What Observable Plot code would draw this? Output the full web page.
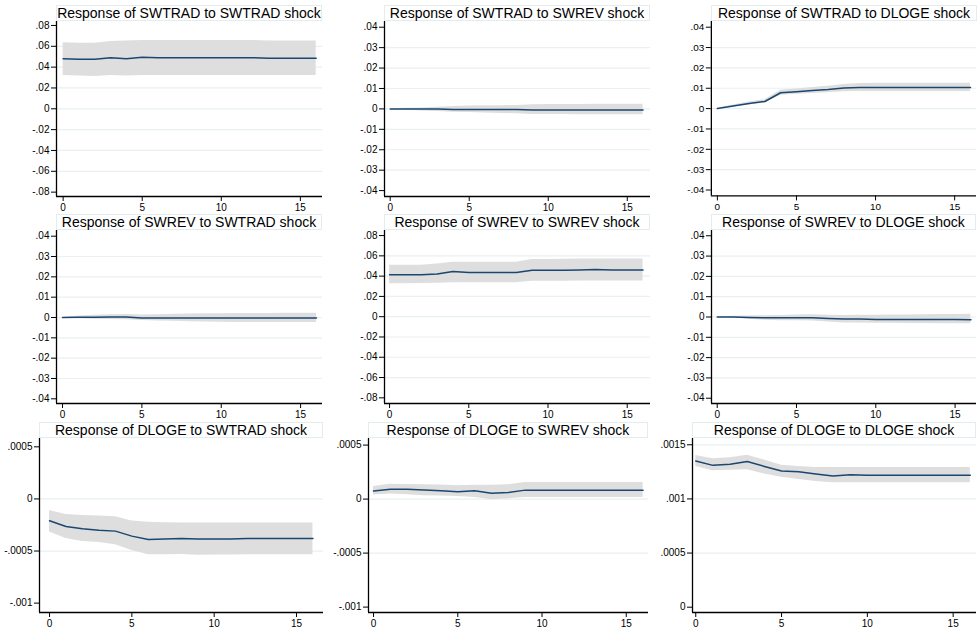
<!DOCTYPE html>
<html>
<head>
<meta charset="utf-8">
<script src="https://cdn.jsdelivr.net/npm/d3@7"></script>
<script src="https://cdn.jsdelivr.net/npm/@observablehq/plot@0.6"></script>
<style>
  html, body { margin: 0; padding: 0; background: #ffffff; }
  #chart { position: relative; width: 979px; height: 629px; overflow: hidden; font-family: "Liberation Sans", Arial, sans-serif; }
  .ttl { position: absolute; box-sizing: border-box; border: 1px solid #e3ecee; background: #fff;
         font-size: 14px; line-height: 14px; text-align: center; white-space: nowrap; color: #000; }
  .pnl { position: absolute; }
</style>
</head>
<body>
<div id="chart"></div>
<script>
// ---------- data ----------
const horizon = [0,1,2,3,4,5,6,7,8,9,10,11,12,13,14,15,16];

const titles = [
  "Response of SWTRAD to SWTRAD shock", "Response of SWTRAD to SWREV shock", "Response of SWTRAD to DLOGE shock",
  "Response of SWREV to SWTRAD shock",  "Response of SWREV to SWREV shock",  "Response of SWREV to DLOGE shock",
  "Response of DLOGE to SWTRAD shock",  "Response of DLOGE to SWREV shock",  "Response of DLOGE to DLOGE shock"
];

// SWTRAD <- SWTRAD
const irf1 = [0.048,0.0475,0.0475,0.049,0.048,0.0495,0.049,0.049,0.049,0.049,0.049,0.049,0.049,0.0485,0.0485,0.0485,0.0485];
const lo1  = [0.032,0.0315,0.031,0.032,0.0315,0.032,0.032,0.032,0.032,0.032,0.032,0.032,0.032,0.032,0.032,0.032,0.032];
const hi1  = [0.0635,0.063,0.063,0.0645,0.065,0.0655,0.0655,0.0655,0.0655,0.0655,0.0655,0.0655,0.0655,0.065,0.065,0.065,0.065];
// SWTRAD <- SWREV
const irf2 = [0,0,0,0,-0.0003,-0.0003,-0.0003,-0.0003,-0.0003,-0.0005,-0.0005,-0.0005,-0.0005,-0.0005,-0.0005,-0.0005,-0.0005];
const lo2  = [0,-0.0005,-0.001,-0.0013,-0.0016,-0.0018,-0.002,-0.0022,-0.0024,-0.0027,-0.0028,-0.0028,-0.0029,-0.0029,-0.0029,-0.0029,-0.0029];
const hi2  = [0,0.0003,0.0005,0.0008,0.0012,0.0014,0.0015,0.0016,0.0017,0.002,0.0021,0.0022,0.0022,0.0023,0.0023,0.0023,0.0023];
// SWTRAD <- DLOGE
const irf3 = [0,0.0013,0.0025,0.0035,0.0078,0.0083,0.0089,0.0094,0.0101,0.0104,0.0104,0.0104,0.0104,0.0104,0.0104,0.0104,0.0104];
const lo3  = [0,0.0008,0.0018,0.0026,0.0066,0.007,0.0074,0.0078,0.0083,0.0084,0.0084,0.0084,0.0084,0.0084,0.0084,0.0084,0.0084];
const hi3  = [0,0.0018,0.0032,0.0044,0.009,0.0096,0.0104,0.011,0.0119,0.0123,0.0124,0.0124,0.0124,0.0124,0.0124,0.0124,0.0124];
// SWREV <- SWTRAD
const irf4 = [0,0.0001,0.0001,0.0002,0.0002,-0.0002,-0.0002,-0.0002,-0.0002,-0.0002,-0.0002,-0.0002,-0.0002,-0.0002,-0.0002,-0.0002,-0.0002];
const lo4  = [0,-0.0006,-0.0009,-0.001,-0.0011,-0.0015,-0.0017,-0.0019,-0.0021,-0.0022,-0.0023,-0.0024,-0.0024,-0.0025,-0.0025,-0.0025,-0.0025];
const hi4  = [0,0.0008,0.0011,0.0013,0.0015,0.0012,0.0014,0.0016,0.0017,0.0018,0.0019,0.002,0.002,0.002,0.0021,0.0021,0.0021];
// SWREV <- SWREV
const irf5 = [0.0413,0.0413,0.0413,0.042,0.0446,0.0436,0.0436,0.0436,0.0436,0.0459,0.0459,0.0459,0.0461,0.0465,0.046,0.046,0.046];
const lo5  = [0.0325,0.0325,0.0327,0.033,0.0335,0.0335,0.0335,0.0335,0.0335,0.035,0.035,0.035,0.0351,0.0352,0.0351,0.0351,0.0351];
const hi5  = [0.0507,0.0507,0.0508,0.052,0.0537,0.0537,0.0537,0.0537,0.0537,0.0563,0.0565,0.0566,0.0568,0.0569,0.0568,0.0568,0.0568];
// SWREV <- DLOGE
const irf6 = [0,0,-0.0002,-0.0004,-0.0004,-0.0004,-0.0004,-0.0007,-0.001,-0.001,-0.0012,-0.0012,-0.0012,-0.0012,-0.0012,-0.0012,-0.0013];
const lo6  = [0,-0.0004,-0.0011,-0.0016,-0.0018,-0.0019,-0.002,-0.0025,-0.0029,-0.003,-0.0031,-0.0031,-0.0032,-0.0032,-0.0033,-0.0033,-0.0033];
const hi6  = [0,0.0004,0.0005,0.0006,0.0008,0.001,0.0011,0.0009,0.0008,0.0009,0.0009,0.001,0.001,0.0011,0.0012,0.0012,0.0013];
// DLOGE <- SWTRAD
const irf7 = [-0.00021,-0.000265,-0.000287,-0.0003,-0.000309,-0.000357,-0.000389,-0.000384,-0.000379,-0.000385,-0.000385,-0.000385,-0.00038,-0.00038,-0.00038,-0.00038,-0.00038];
const lo7  = [-0.000318,-0.00038,-0.000408,-0.000418,-0.00044,-0.000494,-0.000535,-0.000535,-0.000533,-0.00054,-0.000538,-0.000537,-0.000536,-0.000535,-0.000535,-0.000535,-0.000535];
const hi7  = [-0.000111,-0.00015,-0.00016,-0.000165,-0.00017,-0.000213,-0.000223,-0.000228,-0.00023,-0.00023,-0.00023,-0.00023,-0.00023,-0.00023,-0.00023,-0.00023,-0.00023];
// DLOGE <- SWREV
const irf8 = [0.000074,0.000092,0.000092,0.000085,0.000077,0.000068,0.000077,0.000055,0.000061,0.000083,0.000083,0.000083,0.000083,0.000083,0.000083,0.000083,0.000083];
const lo8  = [0.000037,0.000046,0.00004,0.000032,0.000028,0.000025,0.000015,-0.000006,0.000002,0.000015,0.000015,0.000015,0.000015,0.000015,0.000015,0.000015,0.000015];
const hi8  = [0.000117,0.000138,0.000135,0.000133,0.00013,0.000124,0.000128,0.000129,0.000132,0.000153,0.000153,0.000153,0.000153,0.000153,0.000153,0.000153,0.000153];
// DLOGE <- DLOGE
const irf9 = [0.00135,0.00131,0.00132,0.001345,0.0013,0.001258,0.00125,0.00123,0.001211,0.001224,0.001218,0.001218,0.001218,0.001218,0.001218,0.001218,0.001218];
const lo9  = [0.0013,0.00126,0.001265,0.00127,0.00123,0.0012,0.00118,0.00116,0.00115,0.00115,0.00115,0.00115,0.00115,0.00115,0.00115,0.00115,0.00115];
const hi9  = [0.0014,0.00137,0.00138,0.001404,0.00136,0.00131,0.0013,0.00129,0.00129,0.00129,0.00129,0.00129,0.00129,0.00129,0.00129,0.00129,0.00129];

// tick values and labels
const xTicks = [0, 5, 10, 15];
const xTickLabels = ["0", "5", "10", "15"];
const yTicksA = [-0.08,-0.06,-0.04,-0.02,0,0.02,0.04,0.06,0.08];
const yLabelsA = ["-.08","-.06","-.04","-.02","0",".02",".04",".06",".08"];
const gridA = [-0.06,-0.04,-0.02,0,0.02,0.04,0.06];
const yTicksB = [-0.04,-0.03,-0.02,-0.01,0,0.01,0.02,0.03,0.04];
const yLabelsB = ["-.04","-.03","-.02","-.01","0",".01",".02",".03",".04"];
const gridB = [-0.03,-0.02,-0.01,0,0.01,0.02,0.03];
const yTicksC = [-0.001,-0.0005,0,0.0005];
const yLabelsC = ["-.001","-.0005","0",".0005"];
const gridC = [-0.0005, 0];
const yTicksD = [0,0.0005,0.001,0.0015];
const yLabelsD = ["0",".0005",".001",".0015"];
const gridD = [0.0005,0.001,0.0015];

// ---------- layout (page pixels of each plot frame, and scale extents) ----------
const frames = [
  {L:56,  R:322,   T:21,  B:196, xd:[-0.42,16.4],  yd:[-0.0842,0.0838]},
  {L:384, R:650,   T:21,  B:196, xd:[-0.36,16.47], yd:[-0.0429,0.0428]},
  {L:711, R:977,   T:21,  B:196, xd:[-0.38,16.38], yd:[-0.0429,0.0428]},
  {L:56,  R:322,   T:230, B:403, xd:[-0.38,16.38], yd:[-0.0423,0.0428]},
  {L:384, R:650,   T:230, B:403, xd:[-0.32,16.47], yd:[-0.0856,0.085]},
  {L:711, R:976,   T:230, B:403, xd:[-0.36,16.35], yd:[-0.0426,0.0426]},
  {L:39,  R:323,   T:438, B:612, xd:[-0.61,16.64], yd:[-0.00109,0.00058]},
  {L:368, R:648,   T:438, B:612, xd:[-0.3,16.32],  yd:[-0.00105,0.000561]},
  {L:692, R:976,   T:438, B:612, xd:[-0.19,16.36], yd:[-0.000049,0.001558]}
];

const series = [
  [irf1,lo1,hi1,yTicksA,yLabelsA,gridA],
  [irf2,lo2,hi2,yTicksB,yLabelsB,gridB],
  [irf3,lo3,hi3,yTicksB,yLabelsB,gridB],
  [irf4,lo4,hi4,yTicksB,yLabelsB,gridB],
  [irf5,lo5,hi5,yTicksA,yLabelsA,gridA],
  [irf6,lo6,hi6,yTicksB,yLabelsB,gridB],
  [irf7,lo7,hi7,yTicksC,yLabelsC,gridC],
  [irf8,lo8,hi8,yTicksC,yLabelsC,gridC],
  [irf9,lo9,hi9,yTicksD,yLabelsD,gridD]
];

const LINE = "#1a476f", BAND = "#dedede", GRID = "#e8f0f2";
const chart = document.getElementById("chart");

function labeler(ticks, labels) {
  return d => { const i = ticks.findIndex(t => Math.abs(t - d) < 1e-12); return i >= 0 ? labels[i] : ""; };
}

frames.forEach((f, k) => {
  const [irf, lo, hi, yt, yl, grid] = series[k];
  const data = horizon.map((h, i) => ({h, irf: irf[i], lo: lo[i], hi: hi[i]}));
  const mL = 48, mR = 3, mT = 3, mB = 17;
  const svgLeft = f.L - mL, svgTop = f.T - mT;
  const width = f.R - f.L + mL + mR, height = f.B - f.T + mT + mB;

  const p = Plot.plot({
    width, height,
    marginLeft: mL, marginRight: mR, marginTop: mT, marginBottom: mB,
    style: {fontSize: "10px", fontFamily: "'Liberation Sans', Arial, sans-serif", color: "#000", background: "transparent", overflow: "visible"},
    x: {domain: f.xd, ticks: xTicks, tickFormat: labeler(xTicks, xTickLabels), tickSize: 5, tickPadding: 2, label: null},
    y: {domain: f.yd, ticks: yt, tickFormat: labeler(yt, yl), tickSize: 5, tickPadding: 2, label: null},
    marks: [
      Plot.ruleY(grid, {stroke: GRID, strokeWidth: 1.2}),
      Plot.areaY(data, {x: "h", y1: "lo", y2: "hi", fill: BAND}),
      Plot.lineY(data, {x: "h", y: "irf", stroke: LINE, strokeWidth: 1.5}),
      Plot.ruleX([f.xd[0]], {stroke: "#000", strokeWidth: 1.3}),
      Plot.ruleY([f.yd[0]], {stroke: "#000", strokeWidth: 1.3})
    ]
  });
  const wrap = document.createElement("div");
  wrap.className = "pnl";
  wrap.style.left = svgLeft + "px";
  wrap.style.top = svgTop + "px";
  wrap.appendChild(p);
  chart.appendChild(wrap);

  const t = document.createElement("div");
  t.className = "ttl";
  t.textContent = titles[k];
  t.style.left = f.L + "px";
  t.style.width = (f.R - f.L) + "px";
  t.style.top = (f.T - 16) + "px";
  t.style.height = "16px";
  t.style.lineHeight = "14px";
  chart.appendChild(t);
});
</script>
</body>
</html>
